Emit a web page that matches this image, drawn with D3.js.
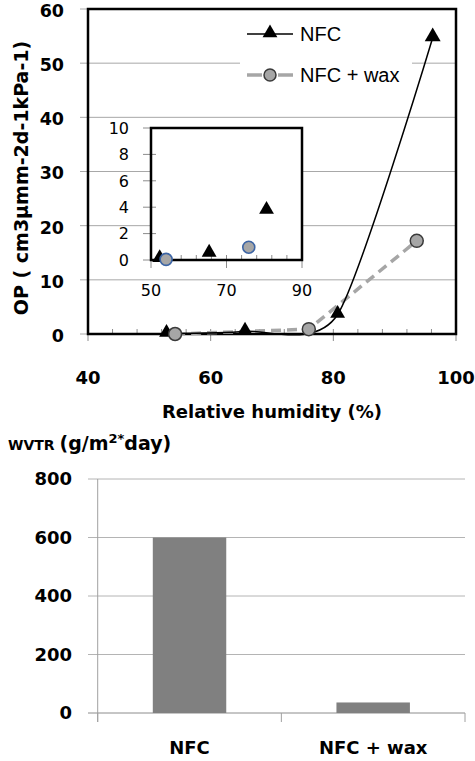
<!doctype html>
<html>
  <head>
    <meta charset="utf-8" />
    <title>OP and WVTR</title>
    <style>
      html, body { margin: 0; padding: 0; background: #fff; }
      svg { display: block; }
      .bold { font-family: "DejaVu Sans", sans-serif; font-weight: bold; fill: #000; }
      .plain { font-family: "DejaVu Sans", sans-serif; fill: #000; }
    </style>
  </head>
  <body>
    <svg id="chart" width="475" height="761"></svg>
    <script src="https://d3js.org/d3.v7.min.js"></script>
    <script>
      // ---- data ----
      const nfcRH = [52.8, 65.6, 80.7, 96.2];
      const nfcOP = [0.1, 0.5, 3.6, 54.7];
      const waxRH = [54.2, 76.0, 93.6];
      const waxOP = [0.0, 0.9, 17.2];

      // inset (zoom of the low humidity part)
      const insetNfcRH = [52.3, 65.4, 80.6];
      const insetNfcOP = [0.1, 0.5, 3.75];
      const insetWaxRH = [54.0, 75.9];
      const insetWaxOP = [0.05, 0.97];

      const xTicks = [40, 60, 80, 100];
      const yTicks = [0, 10, 20, 30, 40, 50, 60];
      const insetXTicks = [50, 70, 90];
      const insetYTicks = [0, 2, 4, 6, 8, 10];

      const wvtrCats = ['NFC', 'NFC + wax'];
      const wvtrVals = [600, 36];
      const wvtrTicks = [0, 200, 400, 600, 800];

      const svg = d3.select('#chart');
      const nfc = nfcRH.map((d, i) => [d, nfcOP[i]]);
      const wax = waxRH.map((d, i) => [d, waxOP[i]]);

      // ================= top chart =================
      const x = d3.scaleLinear().domain([40, 100]).range([88, 456]);
      const y = d3.scaleLinear().domain([0, 60]).range([334, 9]);
      const topG = svg.append('g');

      // gridlines (also act as outside tick marks)
      topG.selectAll('.grid')
        .data(yTicks)
        .join('line')
        .attr('x1', 80).attr('x2', x(100))
        .attr('y1', d => y(d)).attr('y2', d => y(d))
        .attr('stroke', '#a8a8a8').attr('stroke-width', 1);

      // minor x ticks (inside) every 4
      topG.selectAll('.minor')
        .data(d3.range(40, 100.1, 4))
        .join('line')
        .attr('x1', d => x(d)).attr('x2', d => x(d))
        .attr('y1', y(0)).attr('y2', y(0) - 5)
        .attr('stroke', '#8c8c8c');
      topG.selectAll('.major')
        .data(xTicks)
        .join('line')
        .attr('x1', d => x(d)).attr('x2', d => x(d))
        .attr('y1', y(0)).attr('y2', y(0) + 7)
        .attr('stroke', '#8c8c8c');

      // legend background
      topG.append('rect')
        .attr('x', 240).attr('y', 18).attr('width', 172).attr('height', 74)
        .attr('fill', '#fff');

      // plot frame
      topG.append('rect')
        .attr('x', x(40)).attr('y', y(60))
        .attr('width', x(100) - x(40)).attr('height', y(0) - y(60))
        .attr('fill', 'none').attr('stroke', '#000').attr('stroke-width', 2.5);

      // tick labels
      topG.selectAll('.ylab')
        .data(yTicks)
        .join('text')
        .attr('class', 'bold')
        .attr('x', 64).attr('y', d => y(d)).attr('dy', '0.45em')
        .attr('text-anchor', 'end').attr('font-size', 17.5)
        .text(d => d);
      topG.selectAll('.xlab')
        .data(xTicks)
        .join('text')
        .attr('class', 'bold')
        .attr('x', d => x(d)).attr('y', 378).attr('dy', '0.36em')
        .attr('text-anchor', 'middle').attr('font-size', 18)
        .text(d => d);

      topG.append('text')
        .attr('class', 'bold')
        .attr('x', 272).attr('y', 412).attr('dy', '0.36em')
        .attr('text-anchor', 'middle').attr('font-size', 18)
        .text('Relative humidity (%)');
      topG.append('text')
        .attr('class', 'bold')
        .attr('transform', 'translate(21,178) rotate(-90)')
        .attr('dy', '0.36em')
        .attr('text-anchor', 'middle').attr('font-size', 19)
        .text('OP ( cm3μmm-2d-1kPa-1)');

      // ---- inset ----
      const ix = d3.scaleLinear().domain([50, 90]).range([151, 302]);
      const iy = d3.scaleLinear().domain([0, 10]).range([260, 128]);
      const inset = svg.append('g');
      inset.append('rect')
        .attr('x', ix(50)).attr('y', iy(10))
        .attr('width', ix(90) - ix(50)).attr('height', iy(0) - iy(10))
        .attr('fill', '#fff');
      inset.selectAll('.iyt')
        .data(insetYTicks)
        .join('line')
        .attr('x1', ix(50) - 8).attr('x2', ix(50) + 5)
        .attr('y1', d => iy(d)).attr('y2', d => iy(d))
        .attr('stroke', '#8c8c8c');
      inset.selectAll('.ixm')
        .data(d3.range(50, 90.1, 4))
        .join('line')
        .attr('x1', d => ix(d)).attr('x2', d => ix(d))
        .attr('y1', iy(0)).attr('y2', iy(0) - 5)
        .attr('stroke', '#8c8c8c');
      inset.selectAll('.ixt')
        .data(insetXTicks)
        .join('line')
        .attr('x1', d => ix(d)).attr('x2', d => ix(d))
        .attr('y1', iy(0) - 5).attr('y2', iy(0) + 8)
        .attr('stroke', '#8c8c8c');
      inset.append('path')
        .attr('d', `M${ix(50)},${iy(10)}H${ix(90)}V${iy(0)}H${ix(50)}Z`)
        .attr('fill', 'none').attr('stroke', '#000').attr('stroke-width', 2.5);
      inset.selectAll('.iylab')
        .data(insetYTicks)
        .join('text')
        .attr('class', 'plain')
        .attr('x', 129).attr('y', d => iy(d)).attr('dy', '0.36em')
        .attr('text-anchor', 'end').attr('font-size', 16)
        .text(d => d);
      inset.selectAll('.ixlab')
        .data(insetXTicks)
        .join('text')
        .attr('class', 'plain')
        .attr('x', d => ix(d)).attr('y', 290).attr('dy', '0.36em')
        .attr('text-anchor', 'middle').attr('font-size', 16)
        .text(d => d);

      const tri = d3.symbol(d3.symbolTriangle, 95);
      inset.selectAll('.itri')
        .data(insetNfcRH.map((d, i) => [d, insetNfcOP[i]]))
        .join('path')
        .attr('d', tri)
        .attr('transform', d => `translate(${ix(d[0])},${iy(d[1]) - 1})`)
        .attr('fill', '#000');
      inset.selectAll('.icirc')
        .data(insetWaxRH.map((d, i) => [d, insetWaxOP[i]]))
        .join('circle')
        .attr('cx', d => ix(d[0])).attr('cy', d => iy(d[1]))
        .attr('r', 6)
        .attr('fill', '#a6a6a6').attr('stroke', '#3d65a5').attr('stroke-width', 1.6);

      // ---- series ----
      const series = svg.append('g');
      series.append('path')
        .datum(wax)
        .attr('d', d3.line().x(d => x(d[0])).y(d => y(d[1])))
        .attr('fill', 'none').attr('stroke', '#a6a6a6')
        .attr('stroke-width', 3.5).attr('stroke-dasharray', '10,6');
      series.append('path')
        .datum(nfc)
        .attr('d', d3.line().x(d => x(d[0])).y(d => y(d[1])).curve(d3.curveCardinal.tension(0.3)))
        .attr('fill', 'none').attr('stroke', '#000').attr('stroke-width', 1.5);
      series.selectAll('.tri')
        .data(nfc)
        .join('path')
        .attr('d', (d, i) => d3.symbol(d3.symbolTriangle, i === 3 ? 110 : 95)())
        .attr('transform', d => `translate(${x(d[0])},${y(d[1]) - 1})`)
        .attr('fill', '#000');
      series.selectAll('.circ')
        .data(wax)
        .join('circle')
        .attr('cx', d => x(d[0])).attr('cy', d => y(d[1]))
        .attr('r', 6.5)
        .attr('fill', '#a6a6a6').attr('stroke', '#3a3a3a').attr('stroke-width', 1.5);

      // ---- legend ----
      const leg = svg.append('g');
      leg.append('line')
        .attr('x1', 247).attr('x2', 293).attr('y1', 34).attr('y2', 34)
        .attr('stroke', '#000').attr('stroke-width', 1.5);
      leg.append('path').attr('d', tri).attr('transform', 'translate(270,33)');
      leg.append('text')
        .attr('class', 'plain')
        .attr('x', 300).attr('y', 34).attr('dy', '0.36em')
        .attr('font-size', 20)
        .style('font-family', '"Liberation Sans", sans-serif')
        .text('NFC');
      leg.append('line')
        .attr('x1', 247).attr('x2', 293).attr('y1', 75).attr('y2', 75)
        .attr('stroke', '#a6a6a6').attr('stroke-width', 3.5)
        .attr('stroke-dasharray', '15,16');
      leg.append('circle')
        .attr('cx', 270).attr('cy', 75).attr('r', 6)
        .attr('fill', '#a6a6a6').attr('stroke', '#3a3a3a').attr('stroke-width', 1.5);
      leg.append('text')
        .attr('class', 'plain')
        .attr('x', 300).attr('y', 75).attr('dy', '0.36em')
        .attr('font-size', 20)
        .style('font-family', '"Liberation Sans", sans-serif')
        .text('NFC + wax');

      // ================= bottom chart =================
      const bx = d3.scaleBand().domain(wvtrCats).range([97.7, 465])
        .paddingInner(0.6).paddingOuter(0.3);
      const by = d3.scaleLinear().domain([0, 800]).range([713, 479]);
      const bot = svg.append('g');

      bot.selectAll('.bgrid')
        .data(wvtrTicks)
        .join('line')
        .attr('x1', 88).attr('x2', 465)
        .attr('y1', d => by(d)).attr('y2', d => by(d))
        .attr('stroke', d => d === 0 ? '#8c8c8c' : '#b4b4b4');
      bot.append('line')
        .attr('x1', 97.7).attr('x2', 97.7)
        .attr('y1', by(800)).attr('y2', by(0) + 9)
        .attr('stroke', '#a0a0a0');
      const catEdges = [97.7, (97.7 + 465) / 2, 465];
      bot.selectAll('.ctick')
        .data(catEdges)
        .join('line')
        .attr('x1', d => d).attr('x2', d => d)
        .attr('y1', by(0)).attr('y2', by(0) + 9)
        .attr('stroke', '#a0a0a0');

      bot.selectAll('.bar')
        .data(wvtrVals)
        .join('rect')
        .attr('x', (d, i) => bx(wvtrCats[i]))
        .attr('width', bx.bandwidth())
        .attr('y', d => by(d))
        .attr('height', d => by(0) - by(d))
        .attr('fill', '#808080');

      bot.selectAll('.bylab')
        .data(wvtrTicks)
        .join('text')
        .attr('class', 'bold')
        .attr('x', 72).attr('y', d => by(d)).attr('dy', '0.36em')
        .attr('text-anchor', 'end').attr('font-size', 18)
        .text(d => d);
      bot.selectAll('.bxlab')
        .data(wvtrCats)
        .join('text')
        .attr('class', 'bold')
        .attr('x', d => bx(d) + bx.bandwidth() / 2).attr('y', 748).attr('dy', '0.36em')
        .attr('text-anchor', 'middle').attr('font-size', 18)
        .text(d => d);

      const title = bot.append('text')
        .attr('class', 'bold')
        .attr('x', 8).attr('y', 450);
      title.append('tspan').attr('font-size', 14).text('WVTR ');
      title.append('tspan').attr('font-size', 19).text('(g/m');
      title.append('tspan').attr('font-size', 13).attr('dy', -7).text('2*');
      title.append('tspan').attr('font-size', 19).attr('dy', 7).text('day)');
    </script>
  </body>
</html>
